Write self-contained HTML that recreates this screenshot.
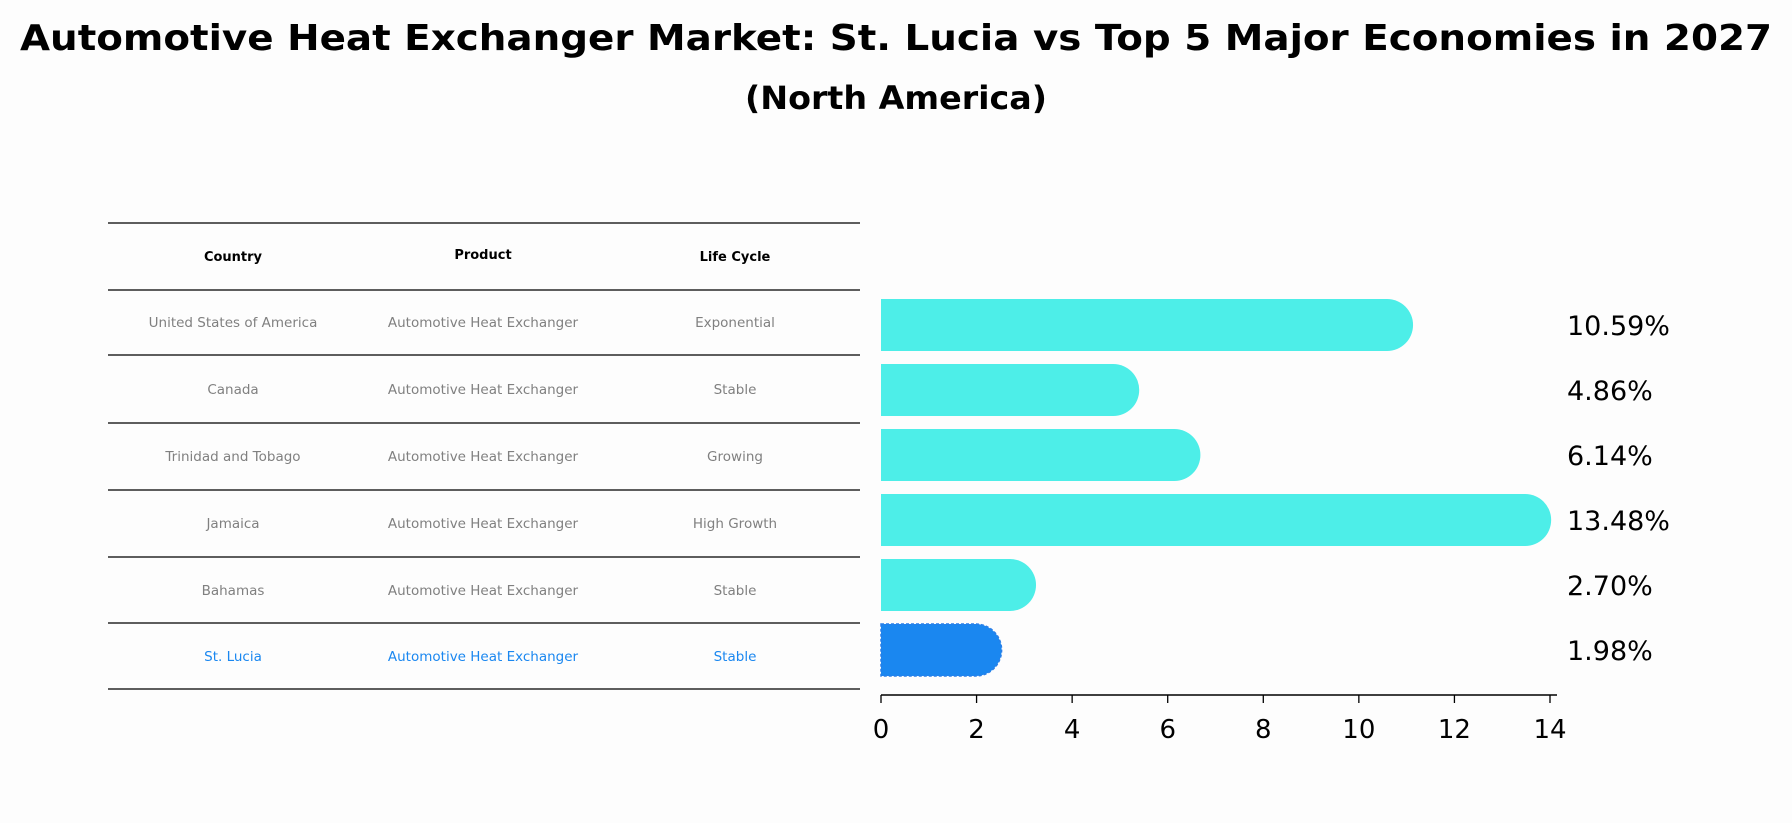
<!DOCTYPE html>
<html><head><meta charset="utf-8"><style>
body{margin:0;background:#fdfdfd;}
svg{display:block;font-family:"DejaVu Sans","Liberation Sans",sans-serif;}
</style></head><body>
<svg id="chart" width="1792" height="823" viewBox="0 0 1792 823">
<rect width="1792" height="823" fill="#fdfdfd"/>
<text x="896" y="50" text-anchor="middle" font-size="36" font-weight="bold" textLength="1752" lengthAdjust="spacingAndGlyphs">Automotive Heat Exchanger Market: St. Lucia vs Top 5 Major Economies in 2027</text>
<text x="896" y="109" text-anchor="middle" font-size="32" font-weight="bold" textLength="302" lengthAdjust="spacingAndGlyphs">(North America)</text>
<g id="table"></g>
<g id="bars"></g>
</svg>
<script>
const countries=["United States of America","Canada","Trinidad and Tobago","Jamaica","Bahamas","St. Lucia"];
const products=["Automotive Heat Exchanger","Automotive Heat Exchanger","Automotive Heat Exchanger","Automotive Heat Exchanger","Automotive Heat Exchanger","Automotive Heat Exchanger"];
const lifeCycles=["Exponential","Stable","Growing","High Growth","Stable","Stable"];
const values=[10.59,4.86,6.14,13.48,2.70,1.98];
const valueLabels=["10.59%","4.86%","6.14%","13.48%","2.70%","1.98%"];
const xTicks=[0,2,4,6,8,10,12,14];
const highlight="St. Lucia";

const NS="http://www.w3.org/2000/svg";
function mk(tag,attrs,parent){const e=document.createElementNS(NS,tag);for(const k in attrs)e.setAttribute(k,attrs[k]);parent.appendChild(e);return e;}
const tbl=document.getElementById('table');
const bars=document.getElementById('bars');
const x0=881,xScale=(1550-881)/14;
const xs=v=>x0+v*xScale;
const barTop=299,pitch=65,barH=52;
const yc=i=>barTop+i*pitch+barH/2;

// table
const lineYs=[223,290,355,423,490,557,623,689];
lineYs.forEach((y,i)=>{
  const l=mk('line',{x1:108,x2:860,y1:y,y2:y,stroke:'#000','stroke-width':1.3},tbl);
  
  
});
const colX=[233,483,735];
["Country","Product","Life Cycle"].forEach((h,i)=>{
  const t=mk('text',{x:colX[i],y:i==1?259:261,'text-anchor':'middle','font-size':13,'font-weight':'bold'},tbl);
  t.textContent=h;
  
  
});
const rowYs=[322,389,456,523,590,656];
countries.forEach((c,i)=>{
  const col=c===highlight?'#1a87f0':'#808080';
  [c,products[i],lifeCycles[i]].forEach((txt,j)=>{
    const t=mk('text',{x:colX[j],y:rowYs[i]+5,'text-anchor':'middle','font-size':13.5,fill:col},tbl);
    t.textContent=txt;
    
    
  });
});

// bars
values.forEach((v,i)=>{
  const col=countries[i]===highlight?'#1a87f0':'#4deee8';
  const r=barH/2, y=barTop+i*pitch, xe=xs(v);
  const d=`M${x0},${y} L${xe},${y} A${r},${r} 0 0 1 ${xe},${y+barH} L${x0},${y+barH} Z`;
  const p=mk('path',{d:d,fill:col},bars);
  if(countries[i]===highlight){p.setAttribute('stroke','#2a7fe8');p.setAttribute('stroke-dasharray','3,2');p.setAttribute('stroke-width','1.5');}
  
  
  const t=mk('text',{x:1567,y:yc(i)+10,'font-size':27},bars);
  t.textContent=valueLabels[i];
  
  
});
// x axis
const ax=mk('line',{x1:x0,x2:1557,y1:695,y2:695,stroke:'#000','stroke-width':1.5},bars);


xTicks.forEach(v=>{
  const l=mk('line',{x1:xs(v),x2:xs(v),y1:695,y2:703,stroke:'#000','stroke-width':1.3},bars);
  
  
  const t=mk('text',{x:xs(v),y:738,'text-anchor':'middle','font-size':26},bars);
  t.textContent=v;
  
  
});
</script>
</body></html>
